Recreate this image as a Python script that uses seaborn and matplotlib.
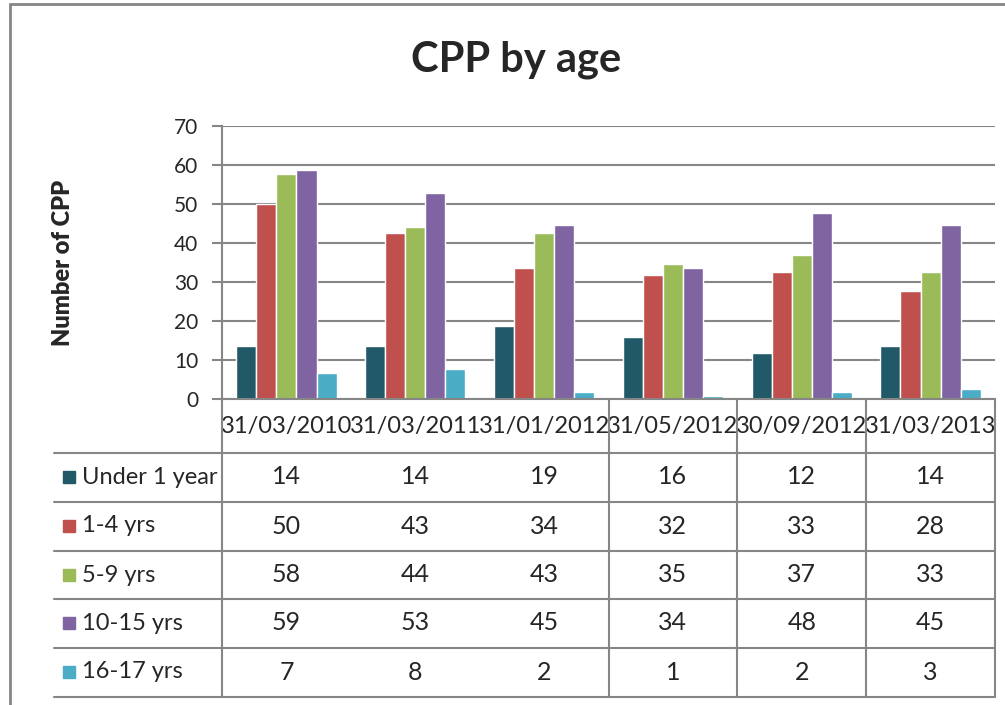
import matplotlib.pyplot as plt
import pandas as pd
import seaborn as sns
from matplotlib.patches import Rectangle
from matplotlib.lines import Line2D
from matplotlib.transforms import blended_transform_factory

# Data (bars carry decimals, table shows rounded values)
dates = ['31/03/2010', '31/03/2011', '31/01/2012', '31/05/2012', '30/09/2012', '31/03/2013']
ages = ['Under 1 year', '1-4 yrs', '5-9 yrs', '10-15 yrs', '16-17 yrs']
under_1 = [13.6, 13.6, 18.6, 15.9, 11.8, 13.6]
age_1_4 = [50.0, 42.6, 33.7, 31.9, 32.6, 27.8]
age_5_9 = [57.6, 44.0, 42.6, 34.7, 37.0, 32.6]
age_10_15 = [58.6, 52.7, 44.7, 33.7, 47.8, 44.7]
age_16_17 = [6.7, 7.7, 1.8, 0.8, 1.8, 2.6]
y_ticks = [0, 10, 20, 30, 40, 50, 60, 70]

COLORS = ['#215968', '#C0504D', '#9BBB59', '#8064A2', '#4BACC6']
GRAY = '#868686'
W, H = 1005, 705

series = [under_1, age_1_4, age_5_9, age_10_15, age_16_17]
df = pd.DataFrame([
    {'date': d, 'age': a, 'count': v}
    for a, vals in zip(ages, series)
    for d, v in zip(dates, vals)
])

sns.set_style('white')
plt.rcParams['font.family'] = ['Lato', 'DejaVu Sans']


def fx(x):
    return x / W


def fy(y):
    return 1 - y / H


fig = plt.figure(figsize=(W / 100, H / 100), dpi=100)
# plot area in pixel coords: x 222..995, y 126..399
ax = fig.add_axes([fx(222), fy(399), fx(995) - fx(222), fy(126) - fy(399)])

sns.barplot(data=df, x='date', y='count', hue='age', order=dates, hue_order=ages,
            palette=COLORS, saturation=1, width=0.78, gap=0, legend=False, ax=ax)

ax.set_xlim(-0.5, len(dates) - 0.5)
ax.set_ylim(0, 70)
ax.set_yticks(y_ticks)
ax.yaxis.grid(True, color=GRAY, linewidth=1.5)
ax.set_axisbelow(True)
for side in ['top', 'right']:
    ax.spines[side].set_visible(False)
for side in ['left', 'bottom']:
    ax.spines[side].set_color(GRAY)
    ax.spines[side].set_linewidth(1.5)
ax.tick_params(axis='y', length=7, width=1.5, color=GRAY, pad=10, labelsize=15, left=True)
ax.tick_params(axis='x', length=0, pad=12, labelsize=17)
ax.set_xlabel('')
ax.set_ylabel('Number of CPP', fontsize=17, fontweight='heavy', labelpad=72)

fig.text(fx(516), fy(60), 'CPP by age', fontsize=30, fontweight='bold',
         ha='center', va='center')

# Data table below the plot: columns follow the axis x scale
trans = blended_transform_factory(ax.transData, fig.transFigure)
row_lines = [453, 501.5, 550.5, 599, 648, 696.5]
row_mid = [477, 526, 575, 623, 672]

for y in row_lines:
    fig.add_artist(Line2D([fx(54), fx(995)], [fy(y), fy(y)], color=GRAY, linewidth=1.5))
for i in [0, 3, 4, 5, 6]:
    ax.add_line(Line2D([i - 0.5, i - 0.5], [fy(399), fy(696.5)], color=GRAY,
                       linewidth=1.5, transform=trans, clip_on=False))

for age, vals, color, ym in zip(ages, series, COLORS, row_mid):
    fig.add_artist(Rectangle((fx(63), fy(ym + 6)), fx(12), fy(0) - fy(12), color=color))
    fig.text(fx(82), fy(ym), age, fontsize=17, ha='left', va='center')
    for i, v in enumerate(vals):
        ax.text(i, fy(ym), f'{v:.0f}', fontsize=18, ha='center', va='center',
                transform=trans, clip_on=False)

# outer chart border (cropped on the right and bottom)
fig.add_artist(Line2D([fx(10), fx(W)], [fy(4), fy(4)], color=GRAY, linewidth=2))
fig.add_artist(Line2D([fx(10), fx(10)], [fy(4), fy(H)], color=GRAY, linewidth=2))

fig.savefig('out.png', dpi=100, facecolor='white')
